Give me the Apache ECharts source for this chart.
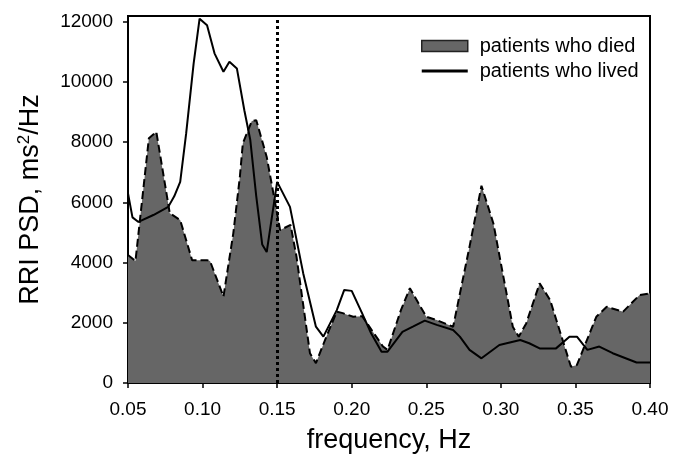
<!DOCTYPE html>
<html><head><meta charset="utf-8">
<script src="https://cdn.jsdelivr.net/npm/echarts@6/dist/echarts.min.js"></script>
<style>html,body{margin:0;padding:0;background:#fff}#c{width:683px;height:464px}</style>
</head><body><div id="c"></div>
<script>
var xTicks = ['0.05','0.10','0.15','0.20','0.25','0.30','0.35','0.40'];
var yTicks = [0,2000,4000,6000,8000,10000,12000];
var diedFreq = [0.050,0.055,0.064,0.069,0.078,0.085,0.093,0.103,0.105,0.114,0.1206,0.125,0.127,0.133,0.136,0.143,0.152,0.159,0.163,0.172,0.176,0.183,0.190,0.194,0.201,0.207,0.221,0.224,0.233,0.239,0.250,0.257,0.268,0.279,0.287,0.295,0.308,0.312,0.317,0.326,0.333,0.347,0.351,0.364,0.371,0.382,0.393,0.400];
var diedPSD = [4250,4050,8130,8340,5640,5410,4080,4080,4050,2870,4970,6850,7960,8700,8730,7510,5080,5250,4190,990,660,1540,2370,2320,2200,2220,1210,1100,2420,3150,2200,2090,1870,4530,6550,5300,1870,1540,1980,3310,2760,540,600,2200,2530,2370,2920,2980];
var livedFreq = [0.050,0.053,0.057,0.067,0.077,0.081,0.085,0.089,0.094,0.098,0.103,0.108,0.114,0.118,0.123,0.128,0.132,0.136,0.140,0.143,0.150,0.1586,0.1675,0.176,0.181,0.190,0.195,0.200,0.207,0.213,0.220,0.224,0.234,0.241,0.249,0.257,0.268,0.2725,0.279,0.287,0.299,0.313,0.319,0.326,0.337,0.346,0.351,0.358,0.366,0.375,0.391,0.400];
var livedPSD = [6300,5500,5350,5580,5850,6200,6680,8290,10610,12100,11880,10950,10340,10670,10450,9060,8070,6200,4600,4350,6680,5850,3640,1870,1540,2420,3090,3060,2310,1650,1040,1040,1700,1870,2070,1930,1760,1540,1100,820,1260,1430,1320,1150,1150,1540,1540,1100,1210,990,680,680];
var cutoff = 0.15;

function pairs(xs, ys){ return xs.map(function(x,i){return [x, ys[i]];}); }
var FONT = '"Liberation Sans", Arial, sans-serif';
var chart = echarts.init(document.getElementById('c'));
chart.setOption({
  animation: false,
  grid: {left:128, right:33, top:16, bottom:81, show:true, borderColor:'#000', borderWidth:2, backgroundColor:'transparent'},
  legend: {
    left: 421, top: 36, padding: 0, orient: 'vertical', itemWidth: 46, itemHeight: 11, itemGap: 5,
    textStyle: {fontFamily: FONT, fontSize: 20, color: '#000', lineHeight: 20, padding:[0,0,0,7]},
    data: [
      {name:'patients who died', icon:'rect', itemStyle:{color:'#666666', borderColor:'#222', borderWidth:1.5}},
      {name:'patients who lived', icon:'path://M0,0 L47,0 L47,3 L0,3 Z', itemStyle:{color:'#000'}}
    ]
  },
  xAxis: {
    type:'value', min:0.05, max:0.40, interval:0.05,
    name:'frequency, Hz', nameLocation:'middle', nameGap:44,
    nameTextStyle:{fontFamily:FONT, fontSize:27, color:'#000'},
    axisLine:{lineStyle:{color:'#000', width:2}},
    axisTick:{show:true, length:5, lineStyle:{color:'#000', width:1.5}},
    axisLabel:{fontFamily:FONT, fontSize:19, color:'#000', margin:17,
      formatter:function(v){ var s=v.toFixed(2); return xTicks.indexOf(s)>=0 ? s : ''; }},
    splitLine:{show:false}
  },
  yAxis: {
    type:'value', min:0, max:12190, interval:2000,
    name:'{b|RRI PSD, ms}{s|2}{b|/Hz}', nameLocation:'middle', nameGap:82, nameRotate:90,
    nameTextStyle:{fontFamily:FONT, fontSize:27, color:'#000',
      rich:{
        b:{fontFamily:FONT, fontSize:27, color:'#000', lineHeight:30},
        s:{fontFamily:FONT, fontSize:17, color:'#000', lineHeight:30, verticalAlign:'top'}
      }},
    axisLine:{lineStyle:{color:'#000', width:2}},
    axisTick:{show:true, length:5, lineStyle:{color:'#000', width:1.5}},
    axisLabel:{fontFamily:FONT, fontSize:19, color:'#000', margin:15, showMaxLabel:false,
      formatter:function(v){ return yTicks.indexOf(v)>=0 ? String(v) : ''; }},
    splitLine:{show:false}
  },
  series: [
    {
      name:'patients who died', type:'line', data: pairs(diedFreq, diedPSD),
      symbol:'none', smooth:false,
      lineStyle:{color:'#000', width:2, type:[8,4]},
      itemStyle:{color:'#666666'},
      areaStyle:{color:'#666666', opacity:1},
      z:2
    },
    {
      name:'patients who lived', type:'line', data: pairs(livedFreq, livedPSD),
      symbol:'none', smooth:false,
      lineStyle:{color:'#000', width:2},
      itemStyle:{color:'#000'},
      z:3,
      markLine:{
        silent:true, symbol:'none', label:{show:false},
        lineStyle:{color:'#000', type:'dotted', width:3},
        data:[{xAxis: cutoff}]
      }
    }
  ]
});
</script></body></html>
